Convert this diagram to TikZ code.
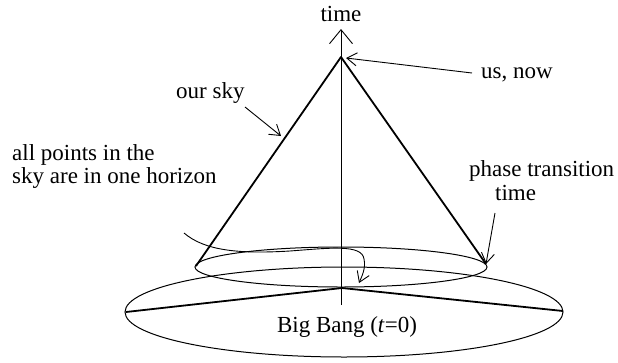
\documentclass[tikz,border=0pt]{standalone}
\usepackage{fontspec}
\setmainfont{Liberation Serif}
\usetikzlibrary{arrows.meta}
\begin{document}
\begin{tikzpicture}[x=1pt,y=-1pt,
    font=\fontsize{23}{22}\selectfont,
    barb/.style={line width=0.9pt,-{Straight Barb[length=10pt,width=13pt]}},
    cone/.style={line width=1.8pt,line join=round}]
  \useasboundingbox (0,0) rectangle (618,362);
  % points
  \coordinate (apex) at (341,57);
  \coordinate (top) at (341,29);
  \coordinate (bottom) at (341,305);
  \coordinate (rimL) at (196,266);
  \coordinate (rimR) at (486,264);
  \coordinate (bangL) at (126,312);
  \coordinate (bangC) at (342,288);
  \coordinate (bangR) at (563,311);
  % ellipses
  \draw[line width=1pt] (341,267) ellipse [x radius=146,y radius=20];
  \draw[line width=1pt] (344,312) ellipse [x radius=219,y radius=45];
  % time axis
  \draw[line width=0.9pt,-{Straight Barb[length=14pt,width=23pt]}] (bottom) -- (top);
  \node[anchor=base] (time) at (341,21) {time};
  % light cone and big bang
  \draw[cone] (rimL) -- (apex) -- (rimR);
  \draw[cone] (bangL) -- (bangC) -- (bangR);
  \node[anchor=base] (bang) at (347,332) {Big Bang (\textit{t}=0)};
  % labels
  \node[anchor=base west,inner sep=0pt] (usnow) at (481,78) {us, now};
  \coordinate (usfrom) at (472,73);
  \draw[barb] (usfrom) -- (346,58);
  \node[anchor=base west,inner sep=0pt] (sky) at (176,98) {our sky};
  \coordinate (skyfrom) at (245,107);
  \coordinate (skyto) at (281,136);
  \draw[barb] (skyfrom) -- (skyto);
  \node[anchor=base west,inner sep=0pt] (phase) at (469,176) {phase transition};
  \node[anchor=base west,inner sep=0pt] (phasetime) at (495,200) {time};
  \coordinate (phasefrom) at (495,213);
  \draw[barb] (phasefrom) -- (rimR);
  \node[anchor=base west,inner sep=0pt,align=left,
    font=\fontsize{23}{23}\selectfont] (horizon) at (12,183)
    {all points in the\\sky are in one horizon};
  \coordinate (wavefrom) at (184,233);
  \coordinate (waveto) at (359,283);
  \draw[barb] (wavefrom)
    .. controls (205,251) and (240,254) .. (290,251)
    .. controls (330,248) and (362,244) .. (364,259)
    .. controls (366,268) and (362,276) .. (waveto);
\end{tikzpicture}
\end{document}
